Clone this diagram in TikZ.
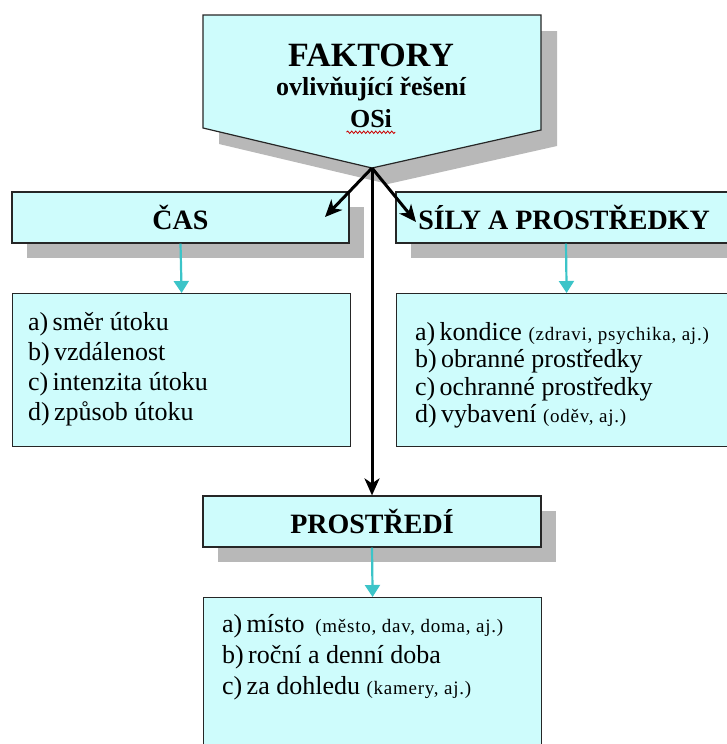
\documentclass[tikz,border=0pt]{standalone}
\usepackage{fontspec}
\setmainfont{LiberationSerif}[
    Extension=.ttf,
    UprightFont=*-Regular,
    BoldFont=*-Bold,
    ItalicFont=*-Italic,
    BoldItalicFont=*-BoldItalic]
\newfontfamily\notefont{LiberationSerif}[Extension=.ttf, UprightFont=*-Regular, LetterSpace=4]
\usetikzlibrary{positioning, arrows.meta, shadows, decorations.pathmorphing}
\definecolor{boxcyan}{RGB}{206,252,252}
\definecolor{linkcyan}{RGB}{60,196,200}
\definecolor{shadegray}{RGB}{184,184,184}
\tikzset{
    x=1pt, y=-1pt, % pixel-like units, y grows downwards
    headbox/.style={draw=black!85, line width=1.2pt, fill=boxcyan,
        minimum height=51pt, inner sep=0pt,
        font=\fontsize{28}{30}\selectfont\bfseries,
        general shadow={fill=shadegray, shadow xshift=15pt, shadow yshift=-15pt}}, % heading boxes
    listbox/.style={draw=black!85, line width=1.2pt, fill=boxcyan,
        inner sep=0pt}, % boxes with the points
    listtext/.style={align=left, inner sep=0pt, anchor=north west,
        font=\fontsize{26}{30}\selectfont}, % the points themselves
    mainarrow/.style={-{Stealth[length=17pt, width=15pt, inset=5pt]}, line width=3pt, black},
    subarrow/.style={-{Triangle[length=12pt, width=15pt]}, line width=2.2pt, linkcyan},
}
\newcommand{\note}[1]{{\notefont\fontsize{19}{30}\selectfont #1}}

\begin{document}
\begin{tikzpicture}
    \useasboundingbox (0,0) rectangle (727,744);
    % top pentagon with its shadow
    \fill[shadegray] (219,31) -- (557,31) -- (557,146) -- (388,184) -- (219,144) -- cycle;
    \draw[draw=black!85, line width=1.2pt, fill=boxcyan]
        (203,15) -- (541,15) -- (541,130) -- (372,168) -- (203,128) -- cycle;
    \node[font=\fontsize{34}{36}\selectfont\bfseries] (faktory) at (371,55) {FAKTORY};
    \node[font=\fontsize{26}{30}\selectfont\bfseries, below=4pt of faktory] (ovliv) {ovlivňující řešení};
    \node[font=\fontsize{26}{30}\selectfont\bfseries, below=1pt of ovliv] (osi) {OSi};
    \draw[red!80!black, line width=0.8pt, decorate,
        decoration={snake, amplitude=1.2pt, segment length=4pt}]
        ([yshift=-1pt]osi.south west) -- ([yshift=-1pt]osi.south east);
    \coordinate (apex) at (372,168);

    % heading boxes
    \node[headbox, minimum width=337pt] (cas) at (180.5,217.5) {ČAS};
    \node[headbox, minimum width=336pt] (sily) at (564,217.5) {SÍLY A PROSTŘEDKY};
    \node[headbox, minimum width=338pt] (prostredi) at (372,521.5) {PROSTŘEDÍ};

    % lists
    \node[listbox, anchor=north west, minimum width=338pt, minimum height=153pt] (caslist) at (12,293) {};
    \node[listtext] (castext) at (28,312) {a)\,směr útoku\\b)\,vzdálenost\\c)\,intenzita útoku\\d)\,způsob útoku};
    \node[listbox, anchor=north west, minimum width=336pt, minimum height=153pt] (silylist) at (396,293) {};
    \node[listtext, font=\fontsize{26}{27.5}\selectfont] (silytext) at (415,322) {a)\,kondice \note{(zdravi, psychika, aj.)}\\b)\,obranné prostředky\\c)\,ochranné prostředky\\d)\,vybavení \note{(oděv, aj.)}};
    \node[listbox, anchor=north west, minimum width=338pt, minimum height=170pt] (mistolist) at (203,597) {};
    \node[listtext, font=\fontsize{26}{31}\selectfont] (mistotext) at (222,614) {a)\,místo \,\note{(město, dav, doma, aj.)}\\b)\,roční a denní doba\\c)\,za dohledu \note{(kamery, aj.)}};

    % black arrows from the top
    \coordinate (casend) at (325,217);
    \coordinate (silyend) at (416,222);
    \draw[mainarrow] (apex) -- (casend);
    \draw[mainarrow] (apex) -- (silyend);
    \draw[mainarrow] (apex) -- (prostredi.north);

    % cyan arrows to the lists
    \draw[subarrow] (cas.south) -- (caslist.north);
    \draw[subarrow] ([xshift=2pt]sily.south) -- ([xshift=2pt]silylist.north);
    \draw[subarrow] (prostredi.south) -- (mistolist.north);
\end{tikzpicture}
\end{document}
